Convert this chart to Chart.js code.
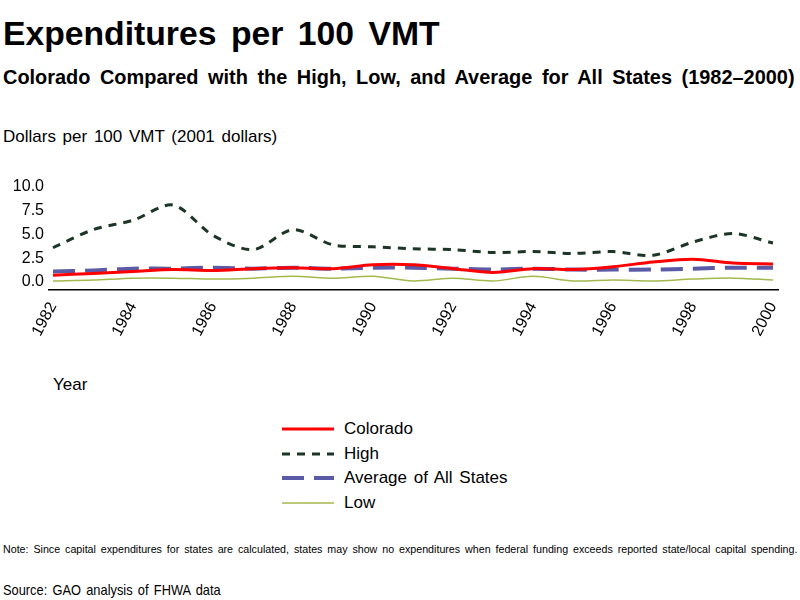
<!DOCTYPE html>
<html>
<head>
<meta charset="utf-8">
<script src="https://cdn.jsdelivr.net/npm/chart.js@4.4.1/dist/chart.umd.min.js"></script>
<style>
  body { margin: 0; background: #fff; width: 800px; height: 600px; overflow: hidden; position: relative;
         font-family: 'Liberation Sans', Arial, sans-serif; color: #000; }
  .txt { position: absolute; left: 3px; white-space: nowrap; line-height: 1; transform-origin: 0 0; }
  #title { top: 17px; font-size: 33px; font-weight: bold; word-spacing: 5px; }
  #subtitle { top: 67px; font-size: 20px; font-weight: bold; word-spacing: 4px; }
  #unit { top: 128px; font-size: 17px; word-spacing: 2px; }
  #xtitle { top: 376px; left: 53px; font-size: 17px; }
  #note { top: 544px; font-size: 11px; word-spacing: 2px; }
  #source { top: 582px; font-size: 15px; word-spacing: 2px; }
  #chartBox { position: absolute; left: 0; top: 170px; width: 800px; height: 200px; }
  #legend { position: absolute; left: 282px; top: 417px; }
  .leg-row { height: 24.5px; display: flex; align-items: center; font-size: 17px; word-spacing: 2px; }
  .leg-row svg { margin-right: 10px; }
</style>
</head>
<body>
<div class="txt" id="title">Expenditures per 100 VMT</div>
<div class="txt" id="subtitle">Colorado Compared with the High, Low, and Average for All States (1982–2000)</div>
<div class="txt" id="unit">Dollars per 100 VMT (2001 dollars)</div>
<div id="chartBox"><canvas id="expChart" width="800" height="200"></canvas></div>
<div class="txt" id="xtitle">Year</div>
<div id="legend"></div>
<div class="txt" id="note">Note: Since capital expenditures for states are calculated, states may show no expenditures when federal funding exceeds reported state/local capital spending.</div>
<div class="txt" id="source">Source: GAO analysis of FHWA data</div>

<script>
// data
const years = [1982, 1983, 1984, 1985, 1986, 1987, 1988, 1989, 1990, 1991, 1992, 1993, 1994, 1995, 1996, 1997, 1998, 1999, 2000];
const colorado = [0.7, 0.9, 1.1, 1.3, 1.2, 1.4, 1.5, 1.4, 1.8, 1.8, 1.4, 1.0, 1.4, 1.3, 1.6, 2.1, 2.4, 2.0, 1.9];
const high = [3.6, 5.5, 6.5, 8.1, 4.9, 3.4, 5.5, 3.9, 3.7, 3.5, 3.4, 3.1, 3.2, 3.0, 3.2, 2.8, 4.2, 5.1, 4.1];
const average = [1.1, 1.2, 1.4, 1.4, 1.5, 1.4, 1.5, 1.4, 1.5, 1.5, 1.4, 1.3, 1.4, 1.3, 1.3, 1.3, 1.4, 1.5, 1.5];
const low = [0.1, 0.2, 0.4, 0.4, 0.3, 0.4, 0.6, 0.4, 0.6, 0.1, 0.4, 0.1, 0.6, 0.1, 0.2, 0.1, 0.3, 0.4, 0.2];
const yTicks = [0, 2.5, 5, 7.5, 10];
const xTicks = [1982, 1984, 1986, 1988, 1990, 1992, 1994, 1996, 1998, 2000];

const FONT = "'Liberation Sans', Arial, sans-serif";

// teks dipersempit supaya lebarnya sama dengan gambar asli
function fitWidth(id, w) {
  const el = document.getElementById(id);
  el.style.transform = `scaleX(${w / el.offsetWidth})`;
}
fitWidth("title", 437);
fitWidth("subtitle", 792);
fitWidth("note", 794);
fitWidth("source", 218);

function toPoints(vals) {
  return vals.map((v, i) => ({ x: years[i], y: v }));
}

const datasets = [
  { label: "Colorado", data: toPoints(colorado), borderColor: "#ff0000", borderWidth: 3, borderDash: [] },
  { label: "High", data: toPoints(high), borderColor: "#1b3526", borderWidth: 3, borderDash: [8, 7] },
  { label: "Average of All States", data: toPoints(average), borderColor: "#5b5aa6", borderWidth: 4, borderDash: [22, 10] },
  { label: "Low", data: toPoints(low), borderColor: "#a3b94c", borderWidth: 1.5, borderDash: [] }
];
datasets.forEach(d => { d.pointRadius = 0; d.tension = 0.3; d.fill = false; });

const ctx = document.getElementById("expChart").getContext("2d");
const expChart = new Chart(ctx, {
  type: "line",
  data: { datasets: datasets },
  options: {
    responsive: false,
    animation: false,
    layout: { padding: { top: 17, right: 22, left: 0, bottom: 0 } },
    plugins: { legend: { display: false }, tooltip: { enabled: false } },
    scales: {
      x: {
        type: "linear",
        min: 1981.9,
        max: 2000.125,
        afterBuildTicks: s => { s.ticks = xTicks.map(v => ({ value: v })); },
        afterFit: s => { s.height = 80; },
        grid: { display: false, drawTicks: false },
        border: { display: true, color: "#000", width: 1.5 },
        ticks: {
          color: "#000", font: { family: FONT, size: 16 }, padding: 9,
          minRotation: 62, maxRotation: 62, autoSkip: false,
          callback: v => String(v)
        }
      },
      y: {
        min: -0.85,
        max: 10,
        afterBuildTicks: s => { s.ticks = yTicks.map(v => ({ value: v })); },
        afterFit: s => { s.width = 49; },
        grid: { display: false, drawTicks: false },
        border: { display: false },
        ticks: { color: "#000", font: { family: FONT, size: 16 }, padding: 5, callback: v => v.toFixed(1) }
      }
    }
  }
});

// legend manual dari dataset
const legendEl = document.getElementById("legend");
expChart.data.datasets.forEach(d => {
  const row = document.createElement("div");
  row.className = "leg-row";
  const dash = d.borderDash.length ? d.borderDash.join(" ") : "none";
  row.innerHTML = `<svg width="52" height="8"><line x1="0" y1="4" x2="52" y2="4" stroke="${d.borderColor}" stroke-width="${d.borderWidth}" stroke-dasharray="${dash}"/></svg><span>${d.label}</span>`;
  legendEl.appendChild(row);
});
</script>
</body>
</html>
